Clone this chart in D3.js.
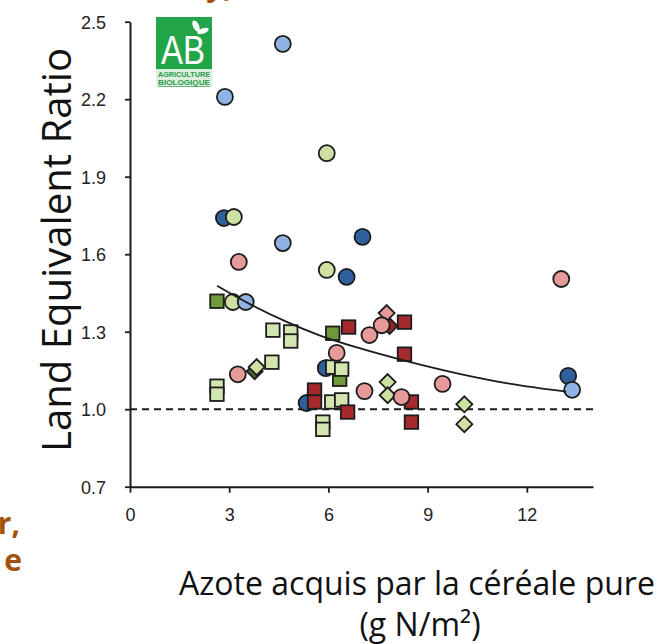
<!DOCTYPE html>
<html><head><meta charset="utf-8">
<script src="https://cdn.jsdelivr.net/npm/d3@7/dist/d3.min.js"></script>
<style>body{margin:0;background:#fff}svg{display:block}</style>
</head><body>
<svg id="c" width="670" height="644"></svg>
<script>
// ---- data ----
const xTicks = [0, 3, 6, 9, 12];
const yTicks = [0.7, 1.0, 1.3, 1.6, 1.9, 2.2, 2.5];
const darkBlueCircles = [[2.84,1.740],[7.03,1.667],[6.55,1.512],[5.92,1.159],[5.34,1.024],[13.25,1.129]];
const darkGreenSquares = [[2.63,1.418],[6.13,1.294],[6.34,1.116]];
const darkGreenDiamonds = [[3.77,1.147]];
const lightGreenCircles = [[5.95,1.991],[3.14,1.744],[5.95,1.539],[3.11,1.415]];
const lightBlueCircles = [[4.62,2.414],[2.87,2.209],[4.62,1.643],[3.50,1.415],[13.37,1.075]];
const lightGreenSquares = [[4.32,1.306],[4.86,1.299],[4.86,1.264],[4.29,1.182],[2.63,1.089],[2.63,1.058],[6.13,1.163],[6.40,1.155],[6.10,1.028],[6.40,1.036],[5.83,0.950],[5.83,0.922]];
const lightGreenDiamonds = [[3.83,1.163],[7.79,1.105],[7.79,1.054],[10.11,1.019],[10.11,0.942]];
const darkRedSquares = [[6.61,1.318],[8.30,1.337],[8.30,1.213],[5.58,1.074],[5.58,1.028],[6.58,0.989],[8.51,1.028],[8.51,0.950]];
const darkRedDiamonds = [[7.85,1.322]];
const pinkDiamonds = [[7.76,1.372]];
const pinkCircles = [[3.29,1.570],[13.04,1.504],[7.24,1.287],[7.61,1.325],[6.25,1.218],[3.26,1.135],[7.09,1.070],[8.21,1.047],[9.45,1.098]];
const trendCurve = [[2.63,1.478],[3.7,1.402],[4.74,1.338],[5.73,1.286],[6.94,1.236],[8.3,1.188],[9.96,1.137],[11.47,1.099],[13.19,1.068]];
const referenceLevel = 1.0;

// ---- layout ----
const svg = d3.select("#c");
const x = d3.scaleLinear().domain([0, 14]).range([130, 593]);
const y = d3.scaleLinear().domain([0.7, 2.5]).range([486.7, 21.7]);
const INK = "#1c1c1c";

// reference dashed line
svg.append("line")
  .attr("x1", x(0)).attr("x2", x(14)).attr("y1", y(referenceLevel)).attr("y2", y(referenceLevel))
  .attr("stroke", INK).attr("stroke-width", 2).attr("stroke-dasharray", "7,5");

// axes
const gx = svg.append("g").attr("transform", `translate(0,${y(0.7)})`)
  .call(d3.axisBottom(x).tickValues(xTicks).tickSize(6).tickSizeOuter(0).tickPadding(16));
const gy = svg.append("g").attr("transform", `translate(${x(0)},0)`)
  .call(d3.axisLeft(y).tickValues(yTicks).tickFormat(d3.format(".1f")).tickSize(5).tickSizeOuter(0).tickPadding(19));
[gx, gy].forEach(g => {
  g.select(".domain").attr("stroke", INK).attr("stroke-width", 2);
  g.selectAll(".tick line").attr("stroke", INK).attr("stroke-width", 1.8);
  g.selectAll(".tick text").attr("font-family", "'Liberation Sans', Arial, sans-serif")
    .attr("font-size", 18).attr("fill", "#222");
});
gy.selectAll(".tick text").attr("dy", "0.36em");

// markers
const SW = 1.8;
function circles(data, fill) {
  svg.append("g").selectAll("circle").data(data).join("circle")
    .attr("cx", d => x(d[0])).attr("cy", d => y(d[1])).attr("r", 8)
    .attr("fill", fill).attr("stroke", INK).attr("stroke-width", SW);
}
function squares(data, fill) {
  const s = 13.5;
  svg.append("g").selectAll("rect").data(data).join("rect")
    .attr("x", d => x(d[0]) - s/2).attr("y", d => y(d[1]) - s/2).attr("width", s).attr("height", s)
    .attr("fill", fill).attr("stroke", INK).attr("stroke-width", SW);
}
function diamonds(data, fill) {
  const h = 8;
  svg.append("g").selectAll("path").data(data).join("path")
    .attr("d", d => { const cx = x(d[0]), cy = y(d[1]);
      return `M${cx},${cy-h}L${cx+h},${cy}L${cx},${cy+h}L${cx-h},${cy}Z`; })
    .attr("fill", fill).attr("stroke", INK).attr("stroke-width", SW);
}
circles(darkBlueCircles, "#2f5f9c");
squares(darkGreenSquares, "#6f9a3c");
diamonds(darkGreenDiamonds, "#4e6b2a");
circles(lightGreenCircles, "#cfe0a3");
circles(lightBlueCircles, "#8fb3e2");
squares(lightGreenSquares, "#d3e6b0");
diamonds(lightGreenDiamonds, "#cde1a0");
squares(darkRedSquares, "#a52a2b");
diamonds(darkRedDiamonds, "#8e2424");
diamonds(pinkDiamonds, "#e69a9a");
circles(pinkCircles, "#e69a9a");

// trend curve
svg.append("path").datum(trendCurve)
  .attr("d", d3.line().x(d => x(d[0])).y(d => y(d[1])).curve(d3.curveMonotoneX))
  .attr("fill", "none").attr("stroke", INK).attr("stroke-width", 1.8);

// axis titles
const TF = "'Open Sans', 'Noto Sans', sans-serif";
svg.append("text").attr("transform", "translate(71,250) rotate(-90)")
  .attr("text-anchor", "middle").attr("font-family", TF).attr("font-size", 41).attr("fill", "#111")
  .attr("textLength", 404).attr("lengthAdjust", "spacingAndGlyphs")
  .text("Land Equivalent Ratio");
svg.append("text").attr("x", 417).attr("y", 595)
  .attr("text-anchor", "middle").attr("font-family", TF).attr("font-size", 32).attr("fill", "#111")
  .text("Azote acquis par la céréale pure");
svg.append("text").attr("x", 420).attr("y", 636)
  .attr("text-anchor", "middle").attr("font-family", TF).attr("font-size", 32).attr("fill", "#111")
  .text("(g N/m²)");

// AB logo
const logo = svg.append("g");
logo.append("rect").attr("x", 156).attr("y", 17).attr("width", 56).attr("height", 70).attr("fill", "#dcefdc");
logo.append("rect").attr("x", 156).attr("y", 17).attr("width", 56).attr("height", 52).attr("fill", "#22a548");
logo.append("text").attr("x", 183).attr("y", 64).attr("text-anchor", "middle")
  .attr("font-family", "'Liberation Sans', Arial, sans-serif").attr("font-size", 40).attr("fill", "#fff")
  .attr("textLength", 44).attr("lengthAdjust", "spacingAndGlyphs").text("AB");
logo.append("ellipse").attr("cx", 196).attr("cy", 26).attr("rx", 3).attr("ry", 6).attr("fill", "#fff").attr("transform", "rotate(-25,196,26)");
logo.append("ellipse").attr("cx", 203).attr("cy", 31).attr("rx", 6).attr("ry", 2.6).attr("fill", "#fff").attr("transform", "rotate(-20,203,31)");
logo.append("text").attr("x", 184).attr("y", 77).attr("text-anchor", "middle")
  .attr("font-family", "'Liberation Sans', Arial, sans-serif").attr("font-size", 6.5).attr("font-weight", "bold").attr("fill", "#2a9a4a")
  .attr("textLength", 52).attr("lengthAdjust", "spacingAndGlyphs").text("AGRICULTURE");
logo.append("text").attr("x", 184).attr("y", 85).attr("text-anchor", "middle")
  .attr("font-family", "'Liberation Sans', Arial, sans-serif").attr("font-size", 6.5).attr("font-weight", "bold").attr("fill", "#2a9a4a")
  .attr("textLength", 52).attr("lengthAdjust", "spacingAndGlyphs").attr("text-decoration", "underline").text("BIOLOGIQUE");

// cropped surrounding text (brown)
const BR = "#a3520c";
svg.append("text").attr("x", 242).attr("y", -4).attr("text-anchor", "end")
  .attr("font-family", TF).attr("font-weight", "bold").attr("font-size", 30).attr("fill", BR).text("y),");
svg.append("text").attr("x", 20).attr("y", 534).attr("text-anchor", "end")
  .attr("font-family", TF).attr("font-weight", "bold").attr("font-size", 30).attr("fill", BR).text("r,");
svg.append("text").attr("x", 22).attr("y", 571).attr("text-anchor", "end")
  .attr("font-family", TF).attr("font-weight", "bold").attr("font-size", 30).attr("fill", BR).text("e");
</script>
</body></html>
